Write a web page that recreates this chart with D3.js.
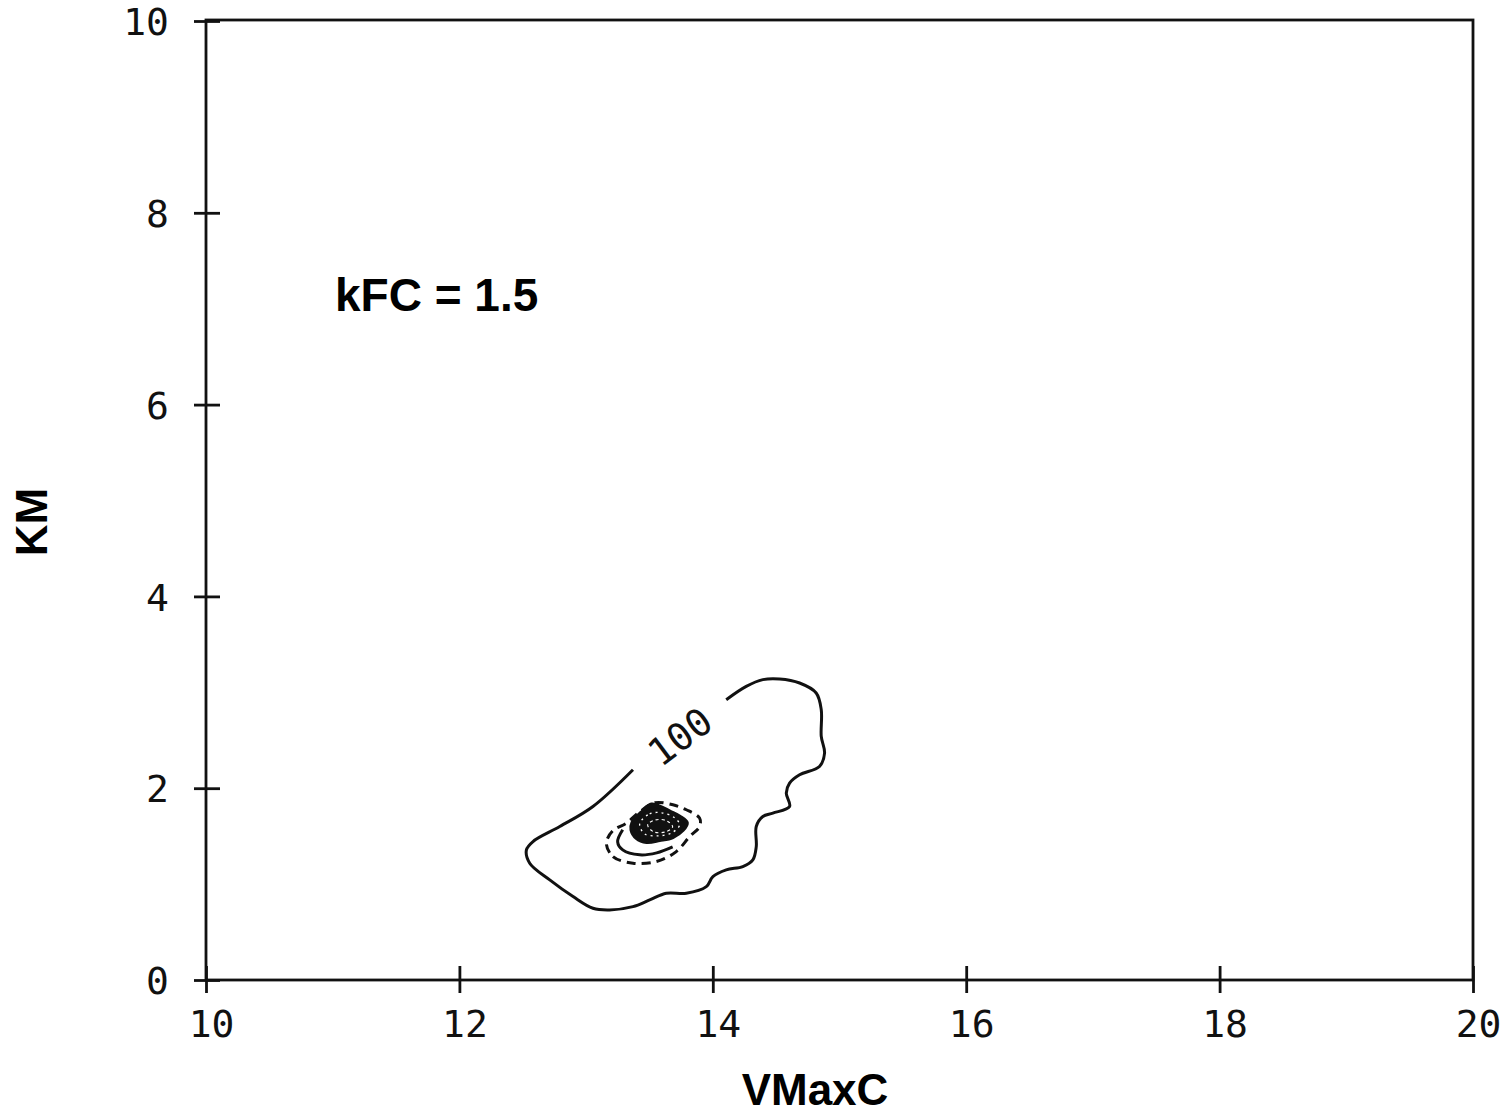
<!DOCTYPE html>
<html>
<head>
<meta charset="utf-8">
<script src="https://cdn.jsdelivr.net/npm/d3@7"></script>
<style>
	body { margin: 0; background: #fff; }
	.tick-lbl { font-family: "DejaVu Sans Mono", monospace; font-size: 38px; fill: #111; }
	.ttl { font-family: "Liberation Sans", Arial, sans-serif; font-weight: bold; fill: #000; }
</style>
</head>
<body>
<svg id="chart" width="1503" height="1115"></svg>
<script>
// Contour plot of error surface, VMaxC vs KM (kFC = 1.5)

var xTicks = [10, 12, 14, 16, 18, 20];
var yTicks = [0, 2, 4, 6, 8, 10];

	// Outer "100" contour, open where the label sits  [VMaxC, KM]
var c100 = [
	[14.106, 2.923], [14.264, 3.062], [14.395, 3.132], [14.527, 3.139], [14.685, 3.097],
	[14.816, 2.993], [14.856, 2.818], [14.856, 2.540], [14.882, 2.366], [14.842, 2.227],
	[14.685, 2.140], [14.606, 2.053], [14.580, 1.949], [14.606, 1.809], [14.474, 1.740],
	[14.395, 1.705], [14.343, 1.601], [14.343, 1.391], [14.316, 1.253], [14.237, 1.183],
	[14.106, 1.148], [14.001, 1.078], [13.949, 0.974], [13.791, 0.905], [13.633, 0.905],
	[13.502, 0.835], [13.370, 0.765], [13.186, 0.731], [13.054, 0.748], [12.897, 0.870],
	[12.713, 1.044], [12.555, 1.218], [12.529, 1.357], [12.581, 1.444], [12.792, 1.600],
	[13.054, 1.809], [13.370, 2.192]
];
var c100Label = { x: 13.74, y: 2.54, t: "100", rot: -37 };

	// Dashed contour around the minimum (closed)
var cDash = [
	[13.160, 1.427], [13.212, 1.287], [13.370, 1.218], [13.554, 1.235], [13.712, 1.339],
	[13.817, 1.496], [13.896, 1.600], [13.896, 1.688], [13.791, 1.775], [13.685, 1.827],
	[13.541, 1.848], [13.423, 1.754], [13.318, 1.636], [13.210, 1.555]
];

	// Solid inner arc under the minimum (open)
var cArc = [
	[13.289, 1.566], [13.249, 1.441], [13.289, 1.357], [13.423, 1.305], [13.557, 1.326], [13.683, 1.388]
];

	// Densely packed contours at the minimum
var cBlob = [
	[13.367, 1.639], [13.446, 1.754], [13.517, 1.827], [13.580, 1.806], [13.659, 1.754],
	[13.738, 1.701], [13.793, 1.639], [13.762, 1.566], [13.683, 1.493], [13.580, 1.461],
	[13.478, 1.441], [13.399, 1.482], [13.360, 1.566]
];
var cRing2 = [
	[13.423, 1.628], [13.502, 1.733], [13.597, 1.743], [13.699, 1.691],
	[13.738, 1.618], [13.675, 1.534], [13.565, 1.503], [13.462, 1.524]
];
var cRing3 = [
	[13.486, 1.618], [13.549, 1.670], [13.636, 1.660], [13.683, 1.597], [13.628, 1.545], [13.533, 1.545]
];

var svg = d3.select("#chart");
var L = 206, R = 1473, T = 21, B = 980;

var x = d3.scaleLinear().domain([10, 20]).range([L, R]);
var y = d3.scaleLinear().domain([0, 10]).range([B, T]);

	// Frame
var ink = "#111";
svg.append("rect").attr("x", L).attr("y", T - 1).attr("width", R - L).attr("height", B - T + 1)
	.attr("fill", "none").attr("stroke", ink).attr("stroke-width", 2.8);

	// Axes: ticks cross the axis line
var gx = svg.append("g").attr("transform", "translate(0," + B + ")")
	.call(d3.axisBottom(x).tickValues(xTicks).tickSize(0).tickPadding(0).tickFormat(d3.format("d")));
gx.select(".domain").remove();
gx.selectAll(".tick line").attr("y1", -14).attr("y2", 13).attr("stroke", ink).attr("stroke-width", 2.8);
gx.selectAll(".tick text").attr("class", "tick-lbl").attr("y", 57).attr("dy", null)
	.attr("font-family", null).attr("font-size", null).attr("dx", 5);

var gy = svg.append("g").attr("transform", "translate(" + L + ",0)")
	.call(d3.axisLeft(y).tickValues(yTicks).tickSize(0).tickPadding(0).tickFormat(d3.format("d")));
gy.select(".domain").remove();
gy.selectAll(".tick line").attr("x1", -12).attr("x2", 14).attr("stroke", ink).attr("stroke-width", 2.8);
gy.selectAll(".tick text").attr("class", "tick-lbl").attr("x", -37).attr("dy", "0.36em")
	.attr("font-family", null).attr("font-size", null);

	// Contours
var lineOpen = d3.line().x(function(d) { return x(d[0]); }).y(function(d) { return y(d[1]); })
	.curve(d3.curveCatmullRom.alpha(0.5));
var lineClosed = d3.line().x(function(d) { return x(d[0]); }).y(function(d) { return y(d[1]); })
	.curve(d3.curveCatmullRomClosed.alpha(0.5));

var cg = svg.append("g").attr("fill", "none").attr("stroke", ink).attr("stroke-linejoin", "round");

cg.append("path").attr("d", lineOpen(c100)).attr("stroke-width", 3);
cg.append("path").attr("d", lineClosed(cDash)).attr("stroke-width", 3).attr("stroke-dasharray", "9,6");
cg.append("path").attr("d", lineOpen(cArc)).attr("stroke-width", 3);
cg.append("path").attr("d", lineClosed(cBlob)).attr("fill", ink).attr("stroke-width", 4.5);
cg.append("path").attr("d", lineClosed(cRing2)).attr("stroke", "#fff").attr("stroke-width", 1.3)
	.attr("stroke-dasharray", "2,4");
cg.append("path").attr("d", lineClosed(cRing3)).attr("stroke", "#fff").attr("stroke-width", 1.1)
	.attr("stroke-dasharray", "3,3");

svg.append("text").attr("class", "tick-lbl")
	.attr("transform", "translate(" + x(c100Label.x) + "," + y(c100Label.y) + ") rotate(" + c100Label.rot + ")")
	.attr("text-anchor", "middle").attr("dy", "0.36em").text(c100Label.t);

	// Titles
svg.append("text").attr("class", "ttl").attr("x", 335).attr("y", 311)
	.attr("font-size", 46).text("kFC = 1.5");
svg.append("text").attr("class", "ttl").attr("x", 815).attr("y", 1105)
	.attr("text-anchor", "middle").attr("font-size", 44).text("VMaxC");
svg.append("text").attr("class", "ttl")
	.attr("transform", "translate(47,522) rotate(-90)")
	.attr("text-anchor", "middle").attr("font-size", 44).text("KM");
</script>
</body>
</html>
